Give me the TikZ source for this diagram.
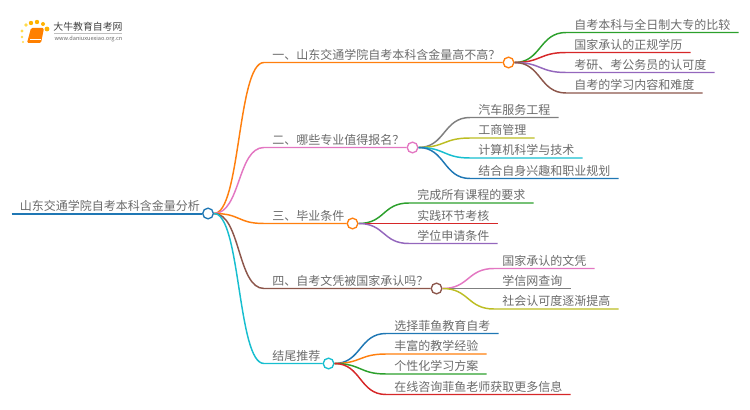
\documentclass[tikz,border=0pt]{standalone}
\usepackage{fontspec}
\setmainfont{Noto Sans CJK SC}
\definecolor{cblue}{HTML}{1F77B4}
\definecolor{corange}{HTML}{FF7F0E}
\definecolor{cgreen}{HTML}{2CA02C}
\definecolor{cred}{HTML}{D62728}
\definecolor{cpurple}{HTML}{9467BD}
\definecolor{cbrown}{HTML}{8C564B}
\definecolor{cpink}{HTML}{E377C2}
\definecolor{cgray}{HTML}{7F7F7F}
\definecolor{colive}{HTML}{BCBD22}
\definecolor{ccyan}{HTML}{17BECF}
\newcommand{\fullq}{\char"FF1F\relax}
\tikzset{
  topic/.style={anchor=south west,inner xsep=6pt,inner ysep=1pt,text height=7.2pt,text depth=1.4pt,
    font=\fontsize{9pt}{9pt}\selectfont,text=black!58},
  hub/.style={circle,draw,fill=white,inner sep=0pt,minimum size=8pt,line width=1pt},
  limb/.style={line width=1.1pt,out=0,in=180,distance=20pt}
}
\begin{document}
\begin{tikzpicture}[x=0.75pt,y=-0.75pt]
\useasboundingbox (0,0) rectangle (750,410);
%logo
\fill[orange!60!yellow] (37,22) circle (2.2) (31,23) circle (2.2) (43,24) circle (2) (47,29) circle (2.4);
\fill[orange!40!yellow!70] (26,25) circle (1.8) (22,31) circle (1.6) (22,37) circle (1.4) (23,42) circle (1.2);
\fill[orange,rounded corners=1pt] (31,28) -- (44,28) -- (41,43) -- (27,43) -- cycle;
\draw[white,line width=0.4pt] (30,39.5) -- (41,39.5);
\node (logoname) at (88,27) [inner sep=0pt,text=black!75,font=\fontsize{7.4pt}{7.4pt}\selectfont] {大牛教育自考网};
\draw[black!25,line width=0.4pt] (54,33) -- (122,33);
\node (logourl) at (88.5,39) [inner sep=0pt,text=black!60,font=\fontsize{4.2pt}{4.2pt}\selectfont] {www.daniuxuexiao.org.cn};
%root
\node[topic] (root) at (11.5,213.5) {山东交通学院自考本科含金量分析};
\node[hub,draw=cblue] (roothub) at (root.south east) {};
\draw[cblue,line width=1.5pt] (root.south west) -- (roothub.west);
%first branch
\node[topic] (one) at (264,62.5) {一、山东交通学院自考本科含金量高不高\fullq};
\node[hub,draw=corange] (onehub) at (one.south east) {};
\draw[limb,corange] (roothub.east) to (one.south west) -- (onehub.west);
\node[topic] (oneA) at (566,32.5) {自考本科与全日制大专的比较};
\node[topic] (oneB) at (566,52.5) {国家承认的正规学历};
\node[topic] (oneC) at (566,72.5) {考研、考公务员的认可度};
\node[topic] (oneD) at (566,93) {自考的学习内容和难度};
\draw[limb,cgreen] (onehub.east) to (oneA.south west) -- (oneA.south east);
\draw[limb,cred] (onehub.east) to (oneB.south west) -- (oneB.south east);
\draw[limb,cpurple] (onehub.east) to (oneC.south west) -- (oneC.south east);
\draw[limb,cbrown] (onehub.east) to (oneD.south west) -- (oneD.south east);
%second branch
\node[topic] (two) at (264,147.5) {二、哪些专业值得报名\fullq};
\node[hub,draw=cpink] (twohub) at (two.south east) {};
\draw[limb,cpink] (roothub.east) to (two.south west) -- (twohub.west);
\node[topic] (twoA) at (470,117.5) {汽车服务工程};
\node[topic] (twoB) at (470,138) {工商管理};
\node[topic] (twoC) at (470,158) {计算机科学与技术};
\node[topic] (twoD) at (470,178.5) {结合自身兴趣和职业规划};
\draw[limb,cgray] (twohub.east) to (twoA.south west) -- (twoA.south east);
\draw[limb,colive] (twohub.east) to (twoB.south west) -- (twoB.south east);
\draw[limb,ccyan] (twohub.east) to (twoC.south west) -- (twoC.south east);
\draw[limb,cblue] (twohub.east) to (twoD.south west) -- (twoD.south east);
%third branch
\node[topic] (three) at (264,223.5) {三、毕业条件};
\node[hub,draw=corange] (threehub) at (three.south east) {};
\draw[limb,corange] (roothub.east) to (three.south west) -- (threehub.west);
\node[topic] (threeA) at (409,203) {完成所有课程的要求};
\node[topic] (threeB) at (409,223.5) {实践环节考核};
\node[topic] (threeC) at (409,243.5) {学位申请条件};
\draw[limb,cgreen] (threehub.east) to (threeA.south west) -- (threeA.south east);
\draw[limb,cred] (threehub.east) to (threeB.south west) -- (threeB.south east);
\draw[limb,cpurple] (threehub.east) to (threeC.south west) -- (threeC.south east);
%fourth branch
\node[topic] (four) at (264,288.5) {四、自考文凭被国家承认吗\fullq};
\node[hub,draw=cbrown] (fourhub) at (four.south east) {};
\draw[limb,cbrown] (roothub.east) to (four.south west) -- (fourhub.west);
\node[topic] (fourA) at (494,268.5) {国家承认的文凭};
\node[topic] (fourB) at (494,288.5) {学信网查询};
\node[topic] (fourC) at (494,309) {社会认可度逐渐提高};
\draw[limb,cpink] (fourhub.east) to (fourA.south west) -- (fourA.south east);
\draw[limb,cgray] (fourhub.east) to (fourB.south west) -- (fourB.south east);
\draw[limb,colive] (fourhub.east) to (fourC.south west) -- (fourC.south east);
%fifth branch
\node[topic] (five) at (264,363.5) {结尾推荐};
\node[hub,draw=ccyan] (fivehub) at (five.south east) {};
\draw[limb,ccyan] (roothub.east) to (five.south west) -- (fivehub.west);
\node[topic] (fiveA) at (386,333.5) {选择菲鱼教育自考};
\node[topic] (fiveB) at (386,354) {丰富的教学经验};
\node[topic] (fiveC) at (386,374) {个性化学习方案};
\node[topic] (fiveD) at (386,394.5) {在线咨询菲鱼老师获取更多信息};
\draw[limb,cblue] (fivehub.east) to (fiveA.south west) -- (fiveA.south east);
\draw[limb,corange] (fivehub.east) to (fiveB.south west) -- (fiveB.south east);
\draw[limb,cgreen] (fivehub.east) to (fiveC.south west) -- (fiveC.south east);
\draw[limb,cred] (fivehub.east) to (fiveD.south west) -- (fiveD.south east);
\end{tikzpicture}
\end{document}
